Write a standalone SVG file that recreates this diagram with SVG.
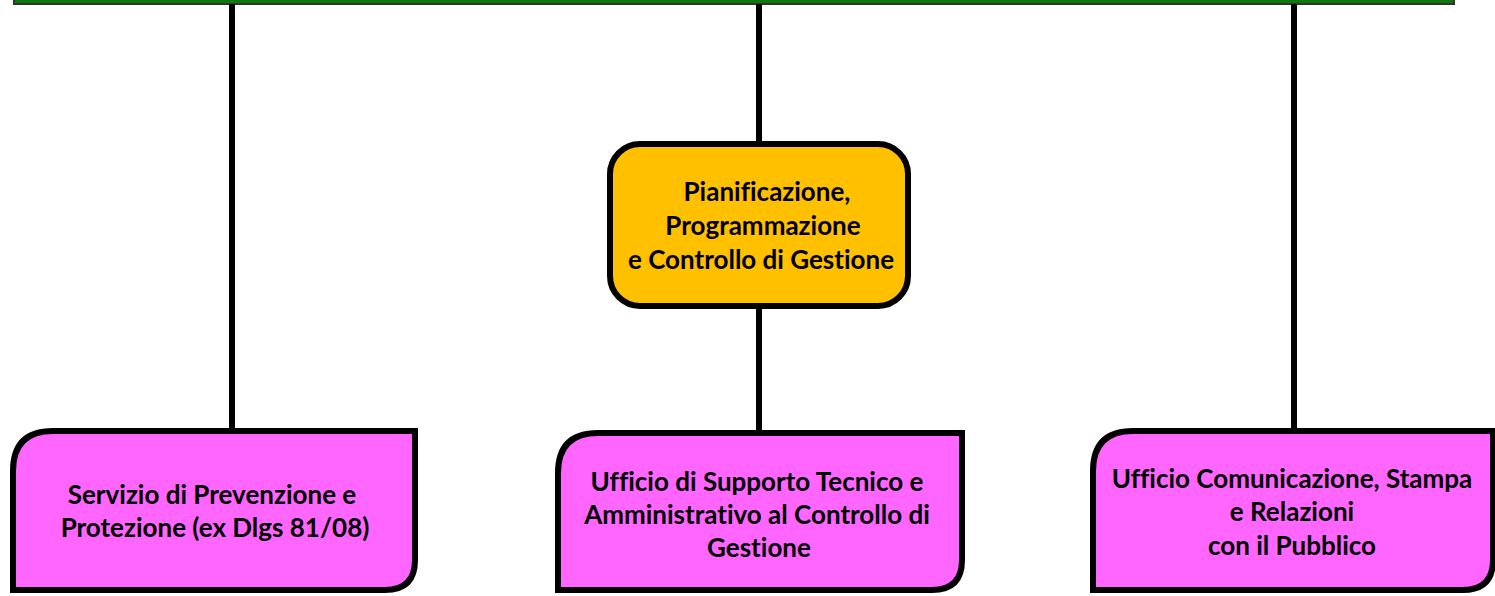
<svg xmlns="http://www.w3.org/2000/svg" width="1495" height="596" viewBox="0 0 1495 596">
<style>
.ln{stroke:#000;stroke-width:6;fill:none}
.pink{fill:#FF66FF;stroke:#000;stroke-width:6}
.orange{fill:#FFC000;stroke:#000;stroke-width:6}
text{font-family:Lato,"Open Sans",sans-serif;font-weight:bold;font-size:26px;fill:#000;text-anchor:middle;font-variant-ligatures:none}
</style>
<rect width="1495" height="596" fill="#fff"/>
<g id="top-bar"><rect x="14" y="-10" width="1440" height="14" fill="#0A7A0A" stroke="#333" stroke-width="2"/></g>
<g id="connectors">
<line class="ln" x1="232" y1="4" x2="232" y2="431"/>
<line class="ln" x1="759" y1="4" x2="759" y2="144"/>
<line class="ln" x1="759" y1="306" x2="759" y2="433"/>
<line class="ln" x1="1294" y1="4" x2="1294" y2="431"/>
</g>
<g id="pianificazione">
<rect class="orange" x="610" y="144" width="298" height="162" rx="30"/>
<text x="767" y="201">Pianificazione,</text>
<text x="763" y="235">Programmazione</text>
<text x="761" y="269">e Controllo di Gestione</text>
</g>
<g id="servizio">
<path class="pink" d="M53 431H415V560Q415 590 385 590H13V471Q13 431 53 431Z"/>
<text x="212" y="504">Servizio di Prevenzione e</text>
<text x="215" y="537">Protezione (ex Dlgs 81/08)</text>
</g>
<g id="supporto">
<path class="pink" d="M598 433H962V560Q962 590 932 590H558V473Q558 433 598 433Z"/>
<text x="757" y="491">Ufficio di Supporto Tecnico e</text>
<text x="757" y="524">Amministrativo al Controllo di</text>
<text x="759" y="557">Gestione</text>
</g>
<g id="comunicazione">
<path class="pink" d="M1133 431H1493V560Q1493 590 1463 590H1093V471Q1093 431 1133 431Z"/>
<text x="1292" y="488">Ufficio Comunicazione, Stampa</text>
<text x="1292" y="521">e Relazioni</text>
<text x="1292" y="555">con il Pubblico</text>
</g>
</svg>
